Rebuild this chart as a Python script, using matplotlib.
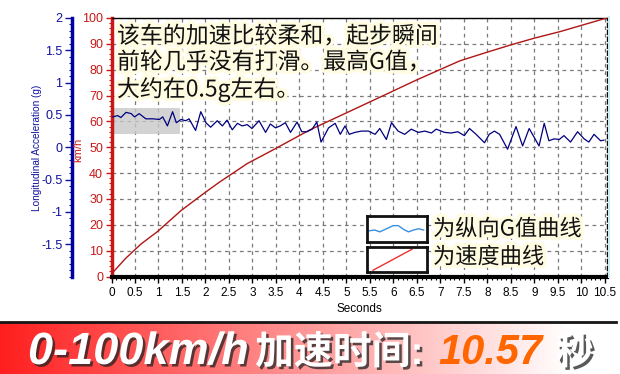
import numpy as np
import matplotlib
matplotlib.use('Agg')
import matplotlib.pyplot as plt
from matplotlib.patches import Rectangle
from matplotlib.lines import Line2D
from matplotlib.ticker import MultipleLocator, FormatStrFormatter
import matplotlib.patheffects as pe

plt.rcParams['axes.unicode_minus'] = False
plt.rcParams['font.family'] = ['Liberation Sans', 'Noto Sans CJK SC', 'DejaVu Sans']

# ---------------- data ----------------
g_time = [0.03, 0.13, 0.20, 0.31, 0.42, 0.49, 0.59, 0.73, 0.88, 1.02, 1.09, 1.19, 1.30, 1.38,
          1.48, 1.58, 1.65, 1.79, 1.90, 2.01, 2.11, 2.25, 2.36, 2.46, 2.57, 2.68, 2.78, 2.89,
          2.99, 3.14, 3.28, 3.38, 3.49, 3.59, 3.70, 3.81, 3.95, 4.05, 4.16, 4.27, 4.37, 4.46,
          4.62, 4.76, 4.87, 4.97, 5.06, 5.18, 5.32, 5.47, 5.61, 5.71, 5.85, 5.96, 6.10, 6.24,
          6.38, 6.53, 6.67, 6.81, 6.91, 7.09, 7.23, 7.37, 7.51, 7.62, 7.76, 7.94, 8.04, 8.15,
          8.26, 8.43, 8.61, 8.75, 8.89, 9.10, 9.21, 9.31, 9.42, 9.53, 9.63, 9.77, 9.92, 10.06,
          10.16, 10.27, 10.41, 10.48]
g_values = [0.47, 0.49, 0.46, 0.54, 0.52, 0.47, 0.52, 0.44, 0.44, 0.43, 0.47, 0.33, 0.55, 0.38,
            0.43, 0.41, 0.44, 0.26, 0.55, 0.38, 0.31, 0.41, 0.33, 0.42, 0.27, 0.37, 0.33, 0.35,
            0.29, 0.41, 0.23, 0.36, 0.30, 0.33, 0.38, 0.23, 0.39, 0.24, 0.24, 0.28, 0.39, 0.08,
            0.30, 0.37, 0.20, 0.33, 0.20, 0.23, 0.25, 0.25, 0.20, 0.29, 0.12, 0.38, 0.25, 0.20,
            0.28, 0.23, 0.25, 0.22, 0.28, 0.23, 0.22, 0.24, 0.18, 0.29, 0.20, 0.07, 0.20, 0.25,
            0.20, -0.03, 0.32, 0.02, 0.29, 0.02, 0.37, 0.10, 0.13, 0.12, 0.18, 0.08, 0.24, 0.13,
            0.08, 0.20, 0.10, 0.11]

speed_time = [0, 0.30, 0.63, 0.98, 1.48, 1.97, 2.29, 2.89, 3.38, 4.22, 5.00, 5.80, 6.49,
              7.41, 8.00, 8.50, 9.00, 9.54, 10.54]
speed_values = [1.0, 7.0, 12.6, 17.4, 25.5, 32.2, 36.4, 43.7, 48.4, 56.7, 63.3, 70.1, 76.0,
                83.4, 86.8, 89.6, 92.2, 94.7, 100.0]

x_ticks = [0, 0.5, 1, 1.5, 2, 2.5, 3, 3.5, 4, 4.5, 5, 5.5, 6, 6.5, 7, 7.5, 8, 8.5, 9, 9.5, 10, 10.5]
speed_ticks = [0, 10, 20, 30, 40, 50, 60, 70, 80, 90, 100]
g_ticks = [-1.5, -1, -0.5, 0, 0.5, 1, 1.5, 2]

highlight_t = (0.03, 1.46)
highlight_v = (55.3, 65.2)

note_text = "该车的加速比较柔和，起步瞬间\n前轮几乎没有打滑。最高G值，\n大约在0.5g左右。"
legend_labels = ["为纵向G值曲线", "为速度曲线"]
legend_wave_x = [0.034, 0.129, 0.213, 0.326, 0.438, 0.522, 0.607, 0.691, 0.775, 0.86, 0.944]
legend_wave_y = [0.43, 0.46, 0.39, 0.51, 0.63, 0.63, 0.49, 0.39, 0.46, 0.51, 0.46]
legend_line_x = [0.10, 0.75]
legend_line_y = [0.07, 0.91]

banner_latin = "0-100km/h"
banner_cjk = "加速时间:"
banner_value = "10.57"
banner_unit = "秒"

# ---------------- layout helpers ----------------
W, H = 620, 374
def fr(x0, y0, x1, y1):
    return [x0 / W, 1 - y1 / H, (x1 - x0) / W, (y1 - y0) / H]

BLUE = '#1010a0'
RED = '#c81818'

fig = plt.figure(figsize=(6.2, 3.74), dpi=100)
fig.patch.set_facecolor('white')

ax = fig.add_axes(fr(111.5, 18, 606.7, 276.5))
ax.set_xlim(0, 10.54)
ax.set_ylim(0, 100)
ax.set_xticks(x_ticks)
ax.xaxis.set_major_formatter(FormatStrFormatter('%g'))
ax.xaxis.set_minor_locator(MultipleLocator(0.1))
ax.set_yticks(speed_ticks)
ax.yaxis.set_minor_locator(MultipleLocator(2))
ax.grid(True, which='major', color='#7a7a7a', lw=0.9, linestyle=(0, (3, 3)), zorder=0)
ax.set_axisbelow(True)

ax.spines['left'].set_color(RED)
ax.spines['left'].set_linewidth(2.5)
ax.spines['bottom'].set_color('black')
ax.spines['bottom'].set_linewidth(3)
ax.spines['top'].set_color('black')
ax.spines['top'].set_linewidth(1)
ax.spines['right'].set_color('black')
ax.spines['right'].set_linewidth(1)
ax.spines['right'].set_linestyle((0, (3, 2)))

ax.tick_params(axis='x', which='major', length=4, width=1, labelsize=8.5, pad=3.5, colors='black')
ax.tick_params(axis='x', which='minor', length=2, width=0.8)
ax.tick_params(axis='y', which='major', length=4, width=1, labelsize=9, pad=2,
               colors=RED)
ax.tick_params(axis='y', which='minor', length=2, width=0.8, colors=RED)
ax.set_xlabel('Seconds', fontsize=8.5, labelpad=3)

ax.add_patch(Rectangle((highlight_t[0], highlight_v[0]), highlight_t[1] - highlight_t[0],
                       highlight_v[1] - highlight_v[0], facecolor='#c8c8c8', alpha=0.8,
                       edgecolor='none', zorder=1))
ax.plot(speed_time, speed_values, color='#b01515', lw=1.0, zorder=3)

ax2 = ax.twinx()
ax2.set_ylim(-2, 2)
ax2.set_yticks(g_ticks)
ax2.yaxis.set_major_formatter(FormatStrFormatter('%g'))
ax2.yaxis.set_minor_locator(MultipleLocator(0.1))
for s in ['top', 'bottom', 'right']:
    ax2.spines[s].set_visible(False)
ax2.spines['left'].set_visible(True)
ax2.spines['left'].set_position(('axes', -40 / 495.2))
ax2.spines['left'].set_color('#0000a0')
ax2.spines['left'].set_linewidth(2.5)
ax2.yaxis.set_ticks_position('left')
ax2.tick_params(axis='y', which='major', length=5, width=1, labelsize=9, pad=1.5, colors=BLUE)
ax2.tick_params(axis='y', which='minor', length=2.5, width=0.8, colors=BLUE)
ax2.plot(g_time, g_values, color='#000080', lw=0.9, zorder=4)

fig.text(37 / W, 1 - 148 / H, 'Longitudinal Acceleration (g)', rotation=90, ha='center',
         va='center', color=BLUE, fontsize=7.2)
fig.text(78 / W, 1 - 150 / H, 'km/h', rotation=90, ha='center', va='center', color=RED,
         fontsize=8)

# faint cyan edge at the right
fig.add_artist(Line2D([609 / W, 609 / W], [1 - 17 / H, 1 - 277 / H], color='#c8eef0', lw=1.5))

glow = [pe.withStroke(linewidth=5, foreground='#fffce2')]
fig.text(117 / W, 1 - 25 / H, note_text, ha='left', va='top', fontsize=16.5, linespacing=1.16,
         color='#111111', family=['Noto Sans CJK SC', 'DejaVu Sans'], path_effects=glow)

# legend boxes
box1 = fig.add_axes(fr(367, 216, 427, 242))
box2 = fig.add_axes(fr(367, 247, 427, 272))
for b in (box1, box2):
    b.set_xlim(0, 1)
    b.set_ylim(0, 1)
    b.set_xticks([])
    b.set_yticks([])
    for s in b.spines.values():
        s.set_linewidth(2.0)
        s.set_color('#111111')
box1.plot(legend_wave_x, legend_wave_y, color='#3a8fe0', lw=1.0)
box2.plot(legend_line_x, legend_line_y, color='#ee3030', lw=1.0)
fig.text(433 / W, 1 - 229 / H, legend_labels[0], ha='left', va='center', fontsize=16,
         color='#111111', family=['Noto Sans CJK SC', 'DejaVu Sans'], path_effects=glow)
fig.text(433 / W, 1 - 257 / H, legend_labels[1], ha='left', va='center', fontsize=16,
         color='#111111', family=['Noto Sans CJK SC', 'DejaVu Sans'], path_effects=glow)

# banner
bax = fig.add_axes(fr(0, 322, 620, 374))
xs = np.linspace(0, 620, 620)
gb = np.clip(0.12 + 0.88 * xs / 570.0, 0, 1)
grad = np.stack([np.ones_like(gb), gb, gb], axis=-1)[None, :, :]
bax.imshow(grad, aspect='auto', extent=[0, 620, 0, 52])
bax.set_xlim(0, 620)
bax.set_ylim(0, 52)
bax.axis('off')
fig.add_artist(Line2D([0, 616 / W], [1 - 321.5 / H] * 2, color='#151515', lw=2))

shadow = [pe.SimplePatchShadow(offset=(1.8, -1.8), shadow_rgbFace='#222222', alpha=0.75),
          pe.Normal()]
bfam = ['Liberation Sans', 'Noto Sans CJK SC', 'DejaVu Sans']
base_y = 1 - 364 / H
fig.text(28 / W, base_y, banner_latin, ha='left', va='baseline', fontsize=32.5,
         fontweight='bold', style='italic', color='white', family=bfam, path_effects=shadow)
fig.text(255 / W, base_y, banner_cjk, ha='left', va='baseline', fontsize=28,
         fontweight='heavy', color='white', family=bfam, path_effects=shadow)
fig.text(438 / W, base_y, banner_value, ha='left', va='baseline', fontsize=30,
         fontweight='bold', style='italic', color='#ff6600', family=bfam)
fig.text(556 / W, base_y, banner_unit, ha='left', va='baseline', fontsize=27,
         fontweight='heavy', color='white', family=bfam, path_effects=shadow)

fig.savefig('out.png', dpi=100)
